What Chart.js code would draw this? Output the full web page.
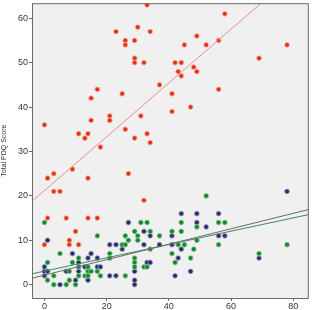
<!DOCTYPE html>
<html><head><meta charset="utf-8">
<script src="https://cdn.jsdelivr.net/npm/chart.js@4"></script>
<style>html,body{margin:0;padding:0;background:#fff}#wrap{width:312px;height:310px}</style>
</head><body><div id="wrap"><canvas id="c"></canvas></div>
<script>
const redX = [33,23,30,34,26,29,26,29,29,32,17,15,25,0,15,21,21,31,26,11,14,13,29,33,34,18,37,58,49,45,52,56,78,69,42,44,48,43,49,44,41,56,41,47,1,3,9,3,5,14,27,32,1,7,14,17,10,8,8,11,0];
const redY = [63,57,58,57,55,55,54,51,50,50,44,42,43,36,37,38,37,38,35,34,34,33,33,34,32,31,45,61,56,54,54,55,54,51,50,50,49,48,48,47,43,44,39,40,24,25,26,21,21,24,25,19,15,15,15,15,12,10,9,9,9];
const greenX = [0,1,1,3,3,5,7,8,8,9,10,11,11,11,13,14,14,14,15,17,17,18,21,21,25,26,26,27,26,29,30,30,29,29,29,31,33,34,32,33,34,37,41,41,42,43,44,44,45,47,48,49,49,52,56,56,58,69,78];
const greenY = [14,5,1,2,0,7,0,1,3,5,0,6,4,2,2,3,4,2,3,11,3,2,7,6,9,9,11,10,2,12,11,10,6,5,4,14,14,12,4,4,8,11,12,7,5,9,12,14,9,6,8,10,13,20,14,9,14,7,9];
const navyX = [0,0,0,1,1,5,7,9,10,11,11,13,14,14,15,17,17,18,21,23,21,23,25,27,29,29,29,32,32,33,34,34,37,41,41,42,43,44,44,47,49,49,52,56,56,58,69,78];
const navyY = [4,3,2,10,3,0,3,7,1,5,3,4,6,1,7,6,4,4,9,9,2,2,8,14,3,1,0,12,9,5,5,11,9,11,9,2,6,8,16,3,14,16,13,16,11,11,6,21];
// fitted lines: [intercept, slope]
const redFit = [21.2, 0.606];
const greenFit = [3.05, 0.150];
const navyFit = [2.15, 0.174];
const xTicks = [0,20,40,60,80];
const yTicks = [0,10,20,30,40,50,60];
const yTitle = 'Total PDQ Score';

const X_MIN = -4, X_MAX = 85, Y_MIN = -3, Y_MAX = 63.4;
const pts = (xs, ys) => xs.map((x, i) => ({x, y: ys[i]}));
const fitLine = f => [X_MIN, X_MAX].map(x => ({x, y: f[0] + f[1] * x}));

const frame = {
  id: 'frame',
  beforeDraw(chart) {
    const {ctx, chartArea: a} = chart;
    ctx.save();
    ctx.fillStyle = '#f0f0f0';
    ctx.fillRect(a.left, a.top, a.right - a.left, a.bottom - a.top);
    ctx.restore();
  },
  afterDraw(chart) {
    const {ctx, chartArea: a} = chart;
    ctx.save();
    ctx.strokeStyle = '#6a6a6a';
    ctx.lineWidth = 1;
    ctx.strokeRect(a.left + 0.5, a.top + 0.5, a.right - a.left - 1, a.bottom - a.top);
    ctx.restore();
  }
};

const ptStyle = (fill, edge) => ({
  type: 'scatter', pointRadius: 2.4, pointBorderWidth: 0.8,
  backgroundColor: fill, borderColor: edge, pointHoverRadius: 2.4
});
const lineStyle = (col) => ({
  type: 'line', borderColor: col, borderWidth: 1, pointRadius: 0, fill: false, tension: 0
});

new Chart(document.getElementById('c'), {
  data: {
    datasets: [
      Object.assign({data: fitLine(redFit)}, lineStyle('#f08a8a')),
      Object.assign({data: fitLine(navyFit)}, lineStyle('#6b6b6b')),
      Object.assign({data: fitLine(greenFit)}, lineStyle('#3f8a5c')),
      Object.assign({data: pts(redX, redY)}, ptStyle('#ee2a1c', '#e8b890')),
      Object.assign({data: pts(greenX, greenY)}, ptStyle('#0f8a2a', '#8fc49a')),
      Object.assign({data: pts(navyX, navyY)}, ptStyle('#2b2d68', '#9a9cc0'))
    ]
  },
  options: {
    responsive: true, maintainAspectRatio: false, animation: false,
    layout: {padding: {top: 0, right: 1, left: 0, bottom: 0}},
    plugins: {legend: {display: false}, tooltip: {enabled: false}},
    scales: {
      x: {
        type: 'linear', min: X_MIN, max: X_MAX,
        afterBuildTicks: s => { s.ticks = xTicks.map(v => ({value: v})); },
        afterFit: s => { s.height = 12; s.paddingLeft = 0; s.paddingRight = 0; },
        ticks: {font: {family: 'Liberation Sans', size: 9}, color: '#333', padding: 0, maxRotation: 0},
        grid: {display: true, drawOnChartArea: false, drawTicks: true, tickLength: 3, color: '#6a6a6a'},
        border: {display: false}
      },
      y: {
        type: 'linear', min: Y_MIN, max: Y_MAX,
        afterBuildTicks: s => { s.ticks = yTicks.map(v => ({value: v})); },
        afterFit: s => { s.width = 32; s.paddingTop = 0; s.paddingBottom = 0; },
        ticks: {font: {family: 'Liberation Sans', size: 9}, color: '#333', padding: 1},
        grid: {display: true, drawOnChartArea: false, drawTicks: true, tickLength: 3, color: '#6a6a6a'},
        border: {display: false},
        title: {display: true, text: yTitle, font: {family: 'Liberation Sans', size: 7}, color: '#333', padding: {top: 0, bottom: 2}}
      }
    }
  },
  plugins: [frame]
});
</script></body></html>
